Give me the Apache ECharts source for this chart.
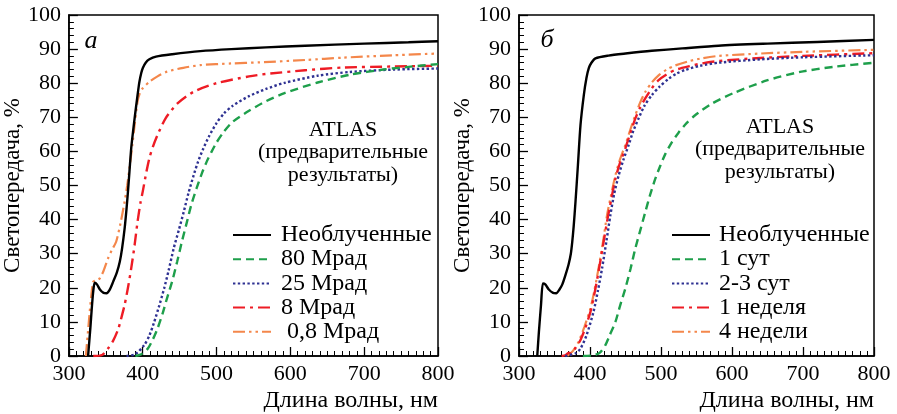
<!DOCTYPE html>
<html><head><meta charset="utf-8">
<script src="https://cdn.jsdelivr.net/npm/echarts@6/dist/echarts.min.js"></script>
<style>html,body{margin:0;padding:0;background:#fff}#c{width:897px;height:414px}</style>
</head><body><div id="c"></div><script>
// ---- data: [wavelength nm, transmission %] ----
const leftUnirradiated = [[326,0],[329,8],[331,14],[333,19],[335,21.5],[338,21],[342,19.5],[347,18.5],[351,18.4],[355,19.3],[360,21.8],[365,24.5],[369,27.7],[372,31.5],[375.5,37.4],[378,43],[380,48.2],[382,54],[384.4,60.9],[387,66],[389,69.7],[393,76.5],[395.5,80.4],[398,83],[400,84.4],[404,86],[409,87],[418,87.8],[440,88.5],[478,89.4],[520,90],[567,90.5],[620,91],[700,91.6],[760,92],[800,92.3]];
const left80Mrad = [[390,0],[398,0.5],[407,2.2],[414,5],[420,8],[427,12.5],[433,17],[440,22],[446.7,27.7],[453,33.5],[460,39.4],[466,44.5],[473,49.2],[480,53.5],[486.7,57],[493,59.8],[500,62.6],[510,65.8],[522,68.7],[544,71.9],[567,74.7],[592,77.1],[637,80.2],[681,82.5],[726,84],[760,84.8],[800,85.6]];
const left25Mrad = [[378,0],[390,0.5],[402,3.2],[409,6],[415.6,10],[422,14.5],[429,19.8],[435,25],[442,31.6],[449,37],[455.6,42.3],[462,47.8],[469,53],[475,57],[482,60.8],[490,64.5],[500,68.3],[510,71.1],[522,73.4],[544,76.2],[567,78.3],[592,80.1],[637,82.2],[681,83.3],[740,84],[800,84.3]];
const left8Mrad = [[333,0],[345,0.3],[353,2.2],[360,4.5],[367,8],[372,12],[375.5,15],[380,20],[384.4,25.7],[389,32.5],[393,39.4],[397,45],[400,48.2],[405,54],[409,58],[414,61.5],[420,64.8],[431,69.7],[446.7,74],[469,77.5],[500,80],[544,82],[567,82.7],[620,83.8],[672,84.6],[740,84.9],[800,85.1]];
const left08Mrad = [[323,0],[327,10],[330,17],[333,21.8],[337,22.2],[342,22.8],[347,25],[353,28.6],[358,31],[364,33.5],[370,39],[375.5,45.3],[379,50],[382,55],[386,62],[389,67.7],[393,74.6],[396,77],[400,78.5],[409,80.4],[420,82],[433,83.4],[455,84.5],[478,85.3],[520,85.8],[558,86.1],[620,86.8],[672,87.5],[740,88.2],[800,88.7]];

const rightUnirradiated = [[325.7,0],[328,7],[331,15],[333.7,21.3],[337,21],[342,19.5],[348,18.5],[352.4,18.4],[357,19.5],[361,21],[365.5,23.8],[370,27],[373,30],[375,33.5],[377,38],[379.6,45.3],[383,56],[386.6,67.7],[391.3,76.5],[395,81.5],[398.3,84.4],[402,86],[407.7,87.3],[426,88.1],[450,88.7],[487,89.5],[530,90.2],[581,91],[650,91.6],[720,92.1],[800,92.7]];
const right1Day = [[390,0],[405,0.2],[414,1],[421.7,3.2],[428,6.2],[435.8,10],[442,14.5],[449.8,19.8],[457,25.5],[463.9,31.6],[471,37],[478,42.3],[485,47.5],[492,52],[499,55.8],[506,59.2],[515,62.6],[524.7,65.5],[536,68.3],[548,70.6],[571.5,74],[602,77.1],[649,80.8],[696,83.3],[743,84.8],[800,86]];
const right23Days = [[365,0],[380,0.8],[386.6,2.2],[395,6],[405,13],[411,19],[417,25.7],[423,33.5],[428.7,41.3],[434,47.5],[440.4,53],[447,57.5],[454.5,61.9],[461,66],[468.5,69.7],[477,73.5],[487,76.5],[498,79],[510.7,81.3],[522,82.8],[534,83.9],[555,85.1],[581,86],[640,87],[700,87.6],[800,88.2]];
const right1Week = [[360,0],[366,0.3],[370,1],[374,0.5],[380,2.5],[386.6,4.7],[393,8],[400.7,13],[406,18],[412,24.7],[418,32],[424,39.4],[430,46],[435.8,52],[442,56.5],[449.8,60.9],[457,65.5],[463.9,69.7],[471,73],[478,75.6],[487,78.5],[496.6,80.9],[508,82.6],[520,83.9],[540,85],[557.5,85.8],[581,86.5],[640,87.4],[700,88],[800,88.8]];
const right4Weeks = [[368,0],[376,1.5],[384,4.2],[392,8.5],[400.7,14],[406,19],[412,25.7],[418,33],[424,41.3],[430,47.5],[435.8,53],[442,57.5],[449.8,61.9],[457,66.5],[463.9,70.7],[471,74.5],[478,77.5],[487,80.2],[496.6,82.3],[508,84],[520,85.2],[540,86.5],[557.5,87.3],[581,88],[640,88.7],[700,89.2],[800,89.8]];

const leftNames = ['Необлученные','80 Мрад','25 Мрад','8 Мрад',' 0,8 Мрад'];
const rightNames = ['Необлученные','1 сут','2-3 сут','1 неделя','4 недели'];
const xRange = [300, 800];
const yRange = [0, 100];
const xLabel = 'Длина волны, нм';
const yLabel = 'Светопередача, %';
const note = ['ATLAS','(предварительные','результаты)'];
const panelLetters = ['а','б'];

// ---- styles ----
const FONT = "'Liberation Serif', 'Times New Roman', serif";
const styles = [
  {color:'#000000', width:2.4, type:'solid'},
  {color:'#1e9f4b', width:2.4, type:[8,5]},
  {color:'#2e3192', width:2.4, type:[2.4,2.4]},
  {color:'#ee1c25', width:2.4, type:[12,5,3,5]},
  {color:'#f4874b', width:2.2, type:[12,4,2.5,4,2.5,4]}
];
const grids = [
  {left:64, top:15, width:374, height:341},
  {left:519, top:15, width:355, height:341}
];

function xAxis(i){
  return {type:'value', gridIndex:i, min:xRange[0], max:xRange[1], interval:100,
    axisLine:{onZero:false, lineStyle:{color:'#000', width:1.5}},
    axisTick:{inside:true, length:9, lineStyle:{color:'#000', width:1.3}},
    minorTick:{show:true, splitNumber:10, length:5, lineStyle:{color:'#000', width:1}},
    splitLine:{show:false},
    axisLabel:{color:'#000', fontFamily:FONT, fontSize:22, margin:7},
    name:xLabel, nameLocation:'end', nameGap:0,
    nameTextStyle:{color:'#000', fontFamily:FONT, fontSize:24, align:'right', verticalAlign:'top', padding:[33,0,0,0]}
  };
}
function yAxis(i){
  return {type:'value', gridIndex:i, min:yRange[0], max:yRange[1], interval:10,
    axisLine:{onZero:false, lineStyle:{color:'#000', width:1.5}},
    axisTick:{inside:true, length:9, lineStyle:{color:'#000', width:1.3}},
    minorTick:{show:true, splitNumber:5, length:5, lineStyle:{color:'#000', width:1}},
    splitLine:{show:false},
    axisLabel:{color:'#000', fontFamily:FONT, fontSize:22, margin:8},
    name:yLabel, nameLocation:'middle', nameGap:31,
    nameTextStyle:{color:'#000', fontFamily:FONT, fontSize:23}
  };
}
function mk(name, data, k, gi){
  return {type:'line', name, data, xAxisIndex:gi, yAxisIndex:gi, symbol:'none', smooth:0.25,
    lineStyle:{color:styles[k].color, width:styles[k].width, type:styles[k].type},
    itemStyle:{color:styles[k].color}, z: 10-k, animation:false};
}
const leftData = [leftUnirradiated,left80Mrad,left25Mrad,left8Mrad,left08Mrad];
const rightData = [rightUnirradiated,right1Day,right23Days,right1Week,right4Weeks];
const series = [];
leftData.forEach((d,k)=>series.push(mk(leftNames[k], d, k, 0)));
rightData.forEach((d,k)=>series.push(mk(rightNames[k], d, k, 1)));

function legend(names, left, gap){
  return {orient:'vertical', left, top:223, data:names, selectedMode:false,
    itemWidth:38, itemHeight:14, itemGap:0.2, padding:0,
    itemStyle:{opacity:0, borderWidth:0},
    textStyle:{color:'#000', fontFamily:FONT, fontSize:24, lineHeight:20, padding:[0,0,0,gap]}};
}
function noteText(cx, cy){
  return note.map((t,i)=>({type:'text', x:cx, y:cy+i*22.5, z:100,
    style:{text:t, fill:'#000', font:"22px 'Liberation Serif', serif", align:'center', verticalAlign:'middle'}}));
}
const chart = echarts.init(document.getElementById('c'), null, {renderer:'canvas'});
chart.setOption({
  backgroundColor:'#fff', animation:false,
  grid: grids.map(g=>Object.assign({show:true, borderColor:'#000', borderWidth:1.5, containLabel:false}, g)),
  xAxis:[xAxis(0), xAxis(1)],
  yAxis:[yAxis(0), yAxis(1)],
  legend:[legend(leftNames.slice(), 232, 5), legend(rightNames.slice(), 671, 4)],
  series,
  graphic:[
    ...noteText(343,130), ...noteText(780,127),
    {type:'text', x:91, y:41, z:100, style:{text:panelLetters[0], fill:'#000', font:"italic 26px 'Liberation Serif', serif", align:'center', verticalAlign:'middle'}},
    {type:'text', x:547, y:40, z:100, style:{text:panelLetters[1], fill:'#000', font:"italic 26px 'Liberation Serif', serif", align:'center', verticalAlign:'middle'}}
  ]
});
</script></body></html>
